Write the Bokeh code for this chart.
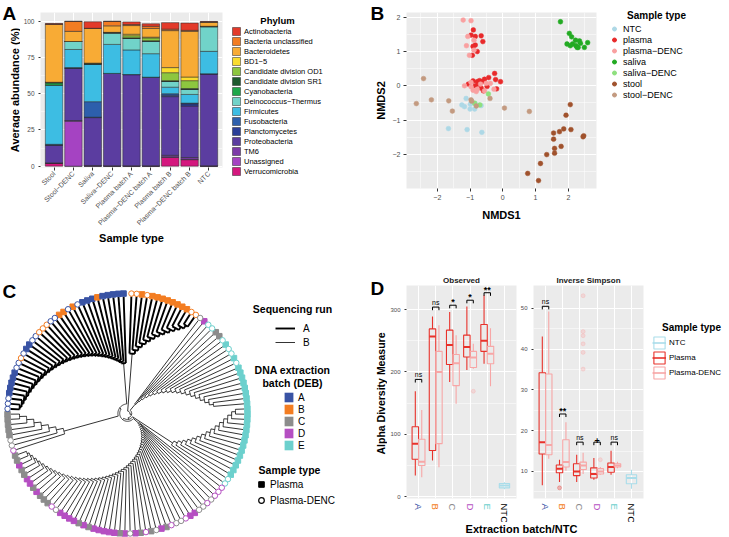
import numpy as np
from math import pi
from bokeh.plotting import figure
from bokeh.models import (ColumnDataSource, Legend, LegendItem, Label, LabelSet,
                          FixedTicker, FactorRange, Range1d)
from bokeh.layouts import row, column
from bokeh.core.properties import value
from bokeh.embed import file_html
from bokeh.resources import INLINE

FONT = "Liberation Sans"
TICK_TXT = "#4D4D4D"

# ================= Panel A data =================
samples = ["Stool", "Stool\u2212DENC", "Saliva", "Saliva\u2212DENC", "Plasma batch A",
           "Plasma\u2212DENC batch A", "Plasma batch B", "Plasma\u2212DENC batch B", "NTC"]
phyla = ["Actinobacteria", "Bacteria unclassified", "Bacteroidetes", "BD1\u22125",
         "Candidate division OD1", "Candidate division SR1", "Cyanobacteria",
         "Deinococcus\u2212Thermus", "Firmicutes", "Fusobacteria", "Planctomycetes",
         "Proteobacteria", "TM6", "Unassigned", "Verrucomicrobia"]
phylum_colors = ["#E33A2A", "#F27C22", "#F8AB35", "#F9DC2E", "#8DC63F", "#1D5A2E",
                 "#1FA84A", "#71D3C9", "#3DBDE3", "#2D5FAC", "#2B3F98", "#5B3DA0",
                 "#7C3AA8", "#A543C2", "#D4177E"]
actinobacteria = [0.5, 0.2, 4.5, 0.2, 1.8, 1.7, 4.5, 5.0, 0.3]
bacteria_unclassified = [0.0, 6.8, 0.0, 3.0, 0.7, 1.5, 1.0, 0.7, 0.3]
bacteroidetes = [40.0, 7.0, 24.0, 4.5, 6.0, 6.0, 25.5, 31.5, 2.7]
bd1_5 = [0.0, 0.0, 0.3, 0.0, 1.0, 0.5, 3.5, 2.5, 0.0]
cand_od1 = [0.0, 0.0, 0.0, 0.0, 1.5, 2.0, 5.5, 5.5, 0.0]
cand_sr1 = [0.5, 0.0, 0.3, 0.5, 0.3, 0.3, 0.5, 0.5, 0.3]
cyanobacteria = [1.5, 0.0, 0.0, 0.0, 0.0, 0.0, 0.0, 0.0, 0.0]
deinococcus = [0.0, 5.5, 0.0, 7.8, 8.0, 8.6, 4.0, 3.5, 17.0]
firmicutes = [40.8, 12.5, 26.0, 20.0, 17.0, 16.2, 4.5, 6.0, 15.5]
fusobacteria = [0.4, 0.5, 10.7, 0.0, 0.0, 0.0, 1.0, 0.5, 0.0]
planctomycetes = [0.4, 0.0, 0.3, 0.0, 0.0, 0.0, 1.0, 1.5, 0.0]
proteobacteria = [12.0, 36.0, 33.0, 63.7, 62.9, 61.1, 40.5, 35.5, 63.4]
tm6 = [0.3, 0.5, 0.5, 0.3, 0.3, 0.3, 1.0, 1.2, 0.3]
unassigned = [0.0, 31.0, 0.0, 0.0, 0.0, 0.0, 0.5, 0.3, 0.0]
verrucomicrobia = [2.0, 0.0, 0.0, 0.0, 0.0, 0.0, 6.0, 4.5, 0.0]
phylum_values = [actinobacteria, bacteria_unclassified, bacteroidetes, bd1_5, cand_od1,
                 cand_sr1, cyanobacteria, deinococcus, firmicutes, fusobacteria,
                 planctomycetes, proteobacteria, tm6, unassigned, verrucomicrobia]

# ================= Panel B data =================
nmds_groups = ["NTC", "plasma", "plasma\u2212DENC", "saliva", "saliva\u2212DENC", "stool", "stool\u2212DENC"]
nmds_colors = ["#ADD8E6", "#E8292A", "#F9A0A0", "#22AA22", "#8EE07E", "#A0522D", "#C39A80"]
ntc_x = [-1.12, -1.25, -1.17, -0.99, -1.00, -0.86, -0.84, -1.66, -1.09, -0.64, -0.66]
ntc_y = [-0.37, -0.56, -0.61, -0.54, -0.68, -0.68, -0.52, -1.25, -1.28, -1.36, -0.58]
plasma_x = [-0.90, -0.97, -0.84, -0.66, -0.61, -0.84, -0.91, -0.78, -0.93, -1.05, -0.91, -0.78, -0.71,
            -0.63, -0.56, -0.43, -0.25, -0.22, -0.07, -0.48, -0.66, -0.84, -0.59, -0.19, -0.74]
plasma_y = [1.63, 1.48, 1.44, 1.46, 1.29, 1.19, 1.15, 1.00, 0.89, 0.05, 0.14, 0.12, 0.15,
            0.12, 0.19, 0.24, 0.36, 0.18, 0.12, -0.02, -0.07, 0.00, -0.15, -0.09, 0.05]
pdenc_x = [-0.97, -1.21, -1.07, -0.88, -1.11, -1.02, -0.88, -1.17, -0.97, -0.91, -0.78, -0.56,
           -0.51, -0.38, -0.27, -0.97, -0.81, -0.68]
pdenc_y = [1.90, 1.92, 1.44, 1.33, 1.17, 0.89, 1.04, 0.00, -0.03, -0.13, -0.10, -0.15,
           0.07, 0.07, -0.10, 0.10, -0.17, 0.05]
saliva_x = [1.76, 2.03, 2.10, 2.22, 2.34, 2.59, 1.96, 2.13, 2.23, 2.37, 2.49, 2.27, 2.30, 2.06]
saliva_y = [1.87, 1.53, 1.43, 1.33, 1.31, 1.26, 1.22, 1.22, 1.17, 1.24, 1.12, 1.12, 1.12, 1.17]
sdenc_x = [-0.44, -0.86, -0.70]
sdenc_y = [-0.24, -0.51, -0.56]
stool_x = [2.06, 1.93, 2.08, 1.86, 1.73, 1.55, 1.55, 1.58, 1.78, 1.58, 2.47, 2.45, 1.34, 1.15, 0.76, 1.09]
stool_y = [-0.55, -0.86, -1.28, -1.26, -1.34, -1.38, -1.56, -1.83, -1.77, -1.97, -1.46, -1.49,
           -2.01, -2.27, -2.56, -2.77]
stdenc_x = [-2.42, -2.64, -2.18, -1.65, -1.54, -0.97, -0.81, -0.39, 0.05, 0.81, -0.95]
stdenc_y = [0.21, -0.52, -0.41, -0.44, -0.74, -0.41, -0.59, -0.37, -0.65, -0.75, -0.45]
nmds_x = [ntc_x, plasma_x, pdenc_x, saliva_x, sdenc_x, stool_x, stdenc_x]
nmds_y = [ntc_y, plasma_y, pdenc_y, saliva_y, sdenc_y, stool_y, stdenc_y]

# ================= Panel C data (tree leaves, clockwise from 12 o'clock) =================
deb_batches = ["A", "B", "C", "D", "E"]
deb_colors = ["#3953A4", "#F37D22", "#8C8C8C", "#B54FC2", "#6CD0CD"]
group_batch = [
    "BBBBBBBBBBBBBB",
    "CDEECCEEEEEE" + "EEEEEEEE",
    "EEEEEEEEEEEEEEEE",
    "DDDCDCCDDDCCDCDCCDCDCDCD" + "DDDDCDCDDDDCDCCCDCDDCCDCC",
    "DCCCCCCC",
    "AAAAAAAAAABAAAAABBBAABBABAAAABAAAAA",
]
group_kind = [  # s = Plasma, c = Plasma-DENC
    "ccsc" + "ssssssss" + "cc",
    "csccsscsccsc" + "ssssssss",
    "ssssssssssssss" + "cc",
    "ccccccc" + "ss" + "cccc" + "ss" + "c" + "s" + "c" + "ss" + "c" + "sss" + "sssssssssss" + "cc" + "ssssssssssss",
    "ccc" + "sssss",
    "ccc" + "sssss" + "cc" + "c" + "c" + "ss" + "cc" + "ccc" + "cc" + "ss" + "c" + "s" + "c" + "sss" + "s" + "sssss",
]
group_r_in = [0.50, 0.10, 0.45, 0.12, 0.55, 0.42]
group_r_out = [0.88, 0.72, 0.90, 0.90, 0.90, 0.90]
group_run = ["A", "B", "B", "B", "B", "A"]
group_peel = ["start", "start", "end", "start", "start", "end"]
root_r = [0.02, 0.035, 0.05, 0.065, 0.08]

# ================= Panel D data =================
batches = ["A", "B", "C", "D", "E", "NTC"]
batch_label_colors = ["#3953A4", "#F37D22", "#8C8C8C", "#B54FC2", "#6CD0CD", "#000000"]
# [lower whisker, Q1, median, Q3, upper whisker] for A..E
obs_plasma = [[34, 60, 85, 112, 169], [58, 74, 257, 269, 289], [184, 212, 243, 267, 296],
              [203, 224, 240, 259, 305], [213, 233, 250, 276, 323]]
obs_denc = [[31, 50, 56, 92, 139], [47, 85, 200, 233, 275], [149, 178, 214, 228, 259],
            [205, 207, 223, 233, 245], [177, 213, 229, 241, 270]]
obs_ntc = [12, 14, 17.7, 21, 23]
obs_denc_out_batch = ["D"]
obs_denc_out = [169]
inv_plasma = [[6.6, 14.3, 17.2, 34.2, 43.1], [7.4, 9.7, 10.7, 11.6, 12.9], [7.4, 9.0, 10.0, 11.9, 14.1],
              [8.0, 8.4, 9.4, 10.9, 13.3], [9.2, 9.8, 11.1, 12.1, 15.1]]
inv_denc = [[13.1, 14.1, 16.5, 33.9, 49.2], [10.2, 11.1, 12.3, 17.8, 22.1], [9.4, 10.5, 11.5, 12.3, 14.6],
            [9.2, 9.4, 10.0, 10.7, 11.1], [10.8, 11.1, 11.5, 11.9, 12.4]]
inv_ntc = [5.8, 7.0, 8.4, 9.2, 10.4]
inv_plasma_out_batch = ["B"]
inv_plasma_out = [6.0]
inv_denc_out_batch = ["C", "C", "C", "C", "C", "C", "D"]
inv_denc_out = [53.1, 44.3, 43.3, 41.3, 39.2, 35.1, 12.9]
obs_sig_y = [188, 304, 307, 315, 327]
obs_sig = ["ns", "ns", "*", "*", "**"]
inv_sig_y = [50.5, 24.1, 17.2, 17.2, 17.2]
inv_sig = ["ns", "**", "ns", "+", "ns"]
d_types = ["NTC", "Plasma", "Plasma-DENC"]
d_colors = ["#A9DDEA", "#E8322B", "#F7A6A6"]


# ================= helpers =================
def gg_theme(p, tick_size="7px"):
    p.background_fill_color = "#EBEBEB"
    p.border_fill_color = "white"
    p.outline_line_color = None
    for g in (p.xgrid, p.ygrid):
        g.grid_line_color = "white"
        g.grid_line_width = 1.0
        g.minor_grid_line_color = "white"
        g.minor_grid_line_width = 0.5
    for ax in (p.xaxis, p.yaxis):
        ax.axis_line_color = None
        ax.major_tick_line_color = "#333333"
        ax.major_tick_out = 3
        ax.major_tick_in = 0
        ax.minor_tick_line_color = None
        ax.major_label_text_color = TICK_TXT
        ax.major_label_text_font = FONT
        ax.major_label_text_font_size = tick_size
        ax.major_label_standoff = 2
        ax.axis_label_text_font = FONT
        ax.axis_label_text_font_style = "bold"
        ax.axis_label_text_font_size = "11px"
        ax.axis_label_text_color = "black"
        ax.axis_label_standoff = 4


def style_legend(lg, font_size, gw, gh, standoff):
    lg.background_fill_alpha = 0
    lg.border_line_color = None
    lg.padding = 0
    lg.margin = 0
    lg.spacing = 0
    lg.glyph_width = int(gw)
    lg.glyph_height = int(gh)
    lg.label_height = int(gh)
    lg.label_standoff = int(standoff)
    lg.label_text_font = FONT
    lg.label_text_font_size = font_size
    lg.label_text_baseline = "middle"
    lg.label_text_color = "black"


def text_at(p, x, y, text, size, bold=True, align="left", baseline="middle", angle=0.0, color="black"):
    p.add_layout(Label(x=x, y=y, x_units="screen", y_units="screen", text=text, angle=angle,
                       text_font=FONT, text_font_size=size,
                       text_font_style="bold" if bold else "normal",
                       text_align=align, text_baseline=baseline, text_color=color))


def blank(width, height, xr=None, yr=None):
    p = figure(width=width, height=height, x_range=xr if xr is not None else Range1d(0, 1),
               y_range=yr if yr is not None else Range1d(0, 1), min_border=0,
               toolbar_location=None, output_backend="svg")
    p.axis.visible = False
    p.grid.visible = False
    p.outline_line_color = None
    p.background_fill_color = None
    p.border_fill_color = None
    return p


# ================= Panel A =================
LA = blank(20, 270)
text_at(LA, 2, 268, "A", "19px", baseline="top")
text_at(LA, 14.5, 180.5, "Average abundance (%)", "11px", align="center", angle=pi / 2)

pA = figure(x_range=FactorRange(*samples, range_padding=0.2, range_padding_units="absolute"),
            y_range=Range1d(-0.9, 106), width=206, height=270,
            min_border_left=16, min_border_right=4, min_border_top=12, min_border_bottom=103,
            toolbar_location=None, output_backend="svg")
gg_theme(pA, tick_size="6.5px")
srcA = ColumnDataSource(dict(sample=samples, **{f"p{i}": v for i, v in enumerate(phylum_values)}))
keysA = [f"p{i}" for i in range(len(phyla))][::-1]
pA.vbar_stack(keysA, x="sample", width=0.9, fill_color=phylum_colors[::-1],
              line_color="#262626", line_width=0.5, source=srcA)
pA.yaxis.ticker = FixedTicker(ticks=[0, 25, 50, 75, 100], minor_ticks=[12.5, 37.5, 62.5, 87.5])
pA.yaxis.major_tick_out = 2
pA.xaxis.axis_label = "Sample type"
pA.xaxis.major_label_text_font_size = "7px"
pA.xaxis.major_label_orientation = pi / 4
pA.xaxis.axis_label_standoff = 0

LgA = blank(144, 270)
nph = len(phyla)
legA_src = ColumnDataSource(dict(l=[np.nan] * nph, r=[np.nan] * nph, b=[np.nan] * nph,
                                 t=[np.nan] * nph, c=phylum_colors))
rA = LgA.quad(left="l", right="r", bottom="b", top="t", fill_color="c", line_color="#262626",
              line_width=0.5, source=legA_src)
legA = Legend(items=[LegendItem(label=ph, renderers=[rA], index=i) for i, ph in enumerate(phyla)],
              location=(5, 94))
style_legend(legA, "7.5px", 10, 10, 3)
LgA.add_layout(legA)
text_at(LgA, 51, 250, "Phylum", "9.5px", align="center")

# ================= Panel B =================
LB = blank(18, 270)
text_at(LB, 0, 268, "B", "19px", baseline="top")
text_at(LB, 10, 170, "NMDS2", "11px", align="center", angle=pi / 2)

pB = figure(x_range=Range1d(-2.94, 2.86), y_range=Range1d(-3.0, 2.14), width=212, height=270,
            min_border_left=18, min_border_right=4, min_border_top=12, min_border_bottom=82,
            toolbar_location=None, output_backend="svg")
gg_theme(pB)
pB.xaxis.ticker = FixedTicker(ticks=[-2, -1, 0, 1, 2], minor_ticks=[-2.5, -1.5, -0.5, 0.5, 1.5, 2.5])
pB.yaxis.ticker = FixedTicker(ticks=[-2, -1, 0, 1, 2], minor_ticks=[-2.5, -1.5, -0.5, 0.5, 1.5])
pB.xaxis.axis_label = "NMDS1"
pB.xaxis.axis_label_standoff = 6
for gx, gy, col in zip(nmds_x, nmds_y, nmds_colors):
    pB.scatter(gx, gy, size=4.8, fill_color=col, line_color=col, line_width=0.5)

LgB = blank(129, 270)
legB_src = ColumnDataSource(dict(x=[np.nan] * 7, y=[np.nan] * 7, c=nmds_colors))
rB = LgB.scatter("x", "y", size=5, fill_color="c", line_color="c", source=legB_src)
legB = Legend(items=[LegendItem(label=g, renderers=[rB], index=i) for i, g in enumerate(nmds_groups)],
              location=(9, 170))
style_legend(legB, "9px", 10, 11, 4)
LgB.add_layout(legB)
text_at(LgB, 56, 255, "Sample type", "10px", align="center")

# ================= Panel C (circular dendrogram) =================
leaf_batch = "".join(group_batch)
leaf_kind = "".join(group_kind)
N = len(leaf_batch)
step = 2 * pi / (N + 0.5)
theta = pi / 2 - step * (np.arange(N) + 0.75)
LEAF_R = 1.0
TIP_R = 0.975
edges = {True: ([], []), False: ([], [])}


def add_node(r_parent, children, thick):
    xs, ys = edges[thick]
    ths = [c[1] for c in children]
    a0, a1 = min(ths), max(ths)
    t = np.linspace(a0, a1, max(2, int((a1 - a0) / 0.01) + 1))
    xs.append(list(r_parent * np.cos(t)))
    ys.append(list(r_parent * np.sin(t)))
    for rc, th in children:
        xs.append([r_parent * np.cos(th), rc * np.cos(th)])
        ys.append([r_parent * np.sin(th), rc * np.sin(th)])


def caterpillar(idx, r_in, r_out, peel, thick):
    seq = list(idx) if peel == "start" else list(idx)[::-1]
    n = len(seq)
    child = (TIP_R, theta[seq[-1]])
    for k in range(n - 2, -1, -1):
        r_k = r_in + (r_out - r_in) * k / max(n - 2, 1)
        leaf = (TIP_R, theta[seq[k]])
        add_node(r_k, [leaf, child], thick)
        child = (r_k, (leaf[1] + child[1]) / 2)
    return child


group_roots = []
start = 0
for gb, ri, ro, run, peel in zip(group_batch, group_r_in, group_r_out, group_run, group_peel):
    idx = range(start, start + len(gb))
    group_roots.append(caterpillar(idx, ri, ro, peel, run == "A"))
    start += len(gb)
child = group_roots[-1]
for k in range(len(group_roots) - 2, -1, -1):
    add_node(root_r[k], [group_roots[k], child], False)
    child = (root_r[k], (group_roots[k][1] + child[1]) / 2)

R_PX = 120.0
pC = blank(370, 267, Range1d(-127 / R_PX, 243 / R_PX), Range1d(-124 / R_PX, 143 / R_PX))
r_thick = pC.multi_line(xs=edges[True][0], ys=edges[True][1], line_color="black", line_width=1.9)
r_thin = pC.multi_line(xs=edges[False][0], ys=edges[False][1], line_color="black", line_width=0.8)

color_of = dict(zip(deb_batches, deb_colors))
lx = LEAF_R * np.cos(theta)
ly = LEAF_R * np.sin(theta)
sq = [i for i in range(N) if leaf_kind[i] == "s"]
ci = [i for i in range(N) if leaf_kind[i] == "c"]
src_sq = ColumnDataSource(dict(x=lx[sq], y=ly[sq], c=[color_of[leaf_batch[i]] for i in sq]))
src_ci = ColumnDataSource(dict(x=lx[ci], y=ly[ci], c=[color_of[leaf_batch[i]] for i in ci]))
pC.scatter("x", "y", marker="square", size=5.5, fill_color="c", line_color="c", source=src_sq)
pC.scatter("x", "y", marker="circle", size=5.5, fill_color="white", line_color="c", line_width=1.0,
           source=src_ci)

legC1 = Legend(items=[LegendItem(label="A", renderers=[r_thick]), LegendItem(label="B", renderers=[r_thin])],
               location=(275, 188))
style_legend(legC1, "10px", 20, 14, 8)
pC.add_layout(legC1)
deb_src = ColumnDataSource(dict(l=[np.nan] * 5, r=[np.nan] * 5, b=[np.nan] * 5, t=[np.nan] * 5, c=deb_colors))
r_deb = pC.quad(left="l", right="r", bottom="b", top="t", fill_color="c", line_color=None, source=deb_src)
legC2 = Legend(items=[LegendItem(label=b, renderers=[r_deb], index=i) for i, b in enumerate(deb_batches)],
               location=(283, 86))
style_legend(legC2, "10px", 11, 12, 4)
pC.add_layout(legC2)
r_pl = pC.scatter([np.nan], [np.nan], marker="square", size=6, fill_color="black", line_color="black")
r_dn = pC.scatter([np.nan], [np.nan], marker="circle", size=6, fill_color="white", line_color="black",
                  line_width=1.2)
legC3 = Legend(items=[LegendItem(label="Plasma", renderers=[r_pl]),
                      LegendItem(label="Plasma-DENC", renderers=[r_dn])], location=(254, 29))
style_legend(legC3, "10px", 14, 16, 2)
pC.add_layout(legC3)
text_at(pC, 2, 257, "C", "19px", baseline="top")
text_at(pC, 292, 229, "Sequencing run", "10.5px", align="center")
text_at(pC, 292, 168, "DNA extraction", "10.5px", align="center")
text_at(pC, 292, 155, "batch (DEB)", "10.5px", align="center")
text_at(pC, 289, 68, "Sample type", "10.5px", align="center")


# ================= Panel D =================
def draw_boxes(p, idx, stats, offset, width, color):
    pos = [i + 0.5 + offset for i in idx]
    lo, q1, md, q3, hi = [list(c) for c in zip(*stats)]
    src = ColumnDataSource(dict(x=pos, x0=[x - width / 2 for x in pos], x1=[x + width / 2 for x in pos],
                                lo=lo, q1=q1, md=md, q3=q3, hi=hi))
    p.segment(x0="x", y0="q3", x1="x", y1="hi", line_color=color, line_width=1.1, source=src)
    p.segment(x0="x", y0="lo", x1="x", y1="q1", line_color=color, line_width=1.1, source=src)
    p.vbar(x="x", bottom="q1", top="q3", width=width, fill_color=None, line_color=color,
           line_width=1.1, source=src)
    p.segment(x0="x0", y0="md", x1="x1", y1="md", line_color=color, line_width=2.0, source=src)


def draw_outliers(p, out_batch, out_vals, offset, color):
    xs = [batches.index(b) + 0.5 + offset for b in out_batch]
    p.scatter(xs, out_vals, size=4, fill_color=color, line_color=color, alpha=0.3)


def draw_sig(p, ys, labels, tip):
    xl = [i + 0.5 - 0.1875 for i in range(len(ys))]
    xr = [i + 0.5 + 0.1875 for i in range(len(ys))]
    p.multi_line(xs=[[a, a, b, b] for a, b in zip(xl, xr)],
                 ys=[[y - tip, y, y, y - tip] for y in ys], line_color="black", line_width=1.0)
    is_ns = [l == "ns" for l in labels]
    src = ColumnDataSource(dict(x=[i + 0.5 for i in range(len(ys))], y=ys, t=labels,
                                fs=["7px" if n else "9px" for n in is_ns],
                                st=["normal" if n else "bold" for n in is_ns],
                                off=[-1.0 if n else 2.0 for n in is_ns]))
    p.text(x="x", y="y", text="t", source=src, text_font=value(FONT), text_font_size="fs",
           text_font_style="st", text_align="center", text_baseline="bottom", y_offset="off")


def d_fig(title, yr, left, right, ticks, minor):
    p = figure(x_range=FactorRange(*batches, range_padding=0.2, range_padding_units="absolute"),
               y_range=yr, width=left + 115 + right, height=232, min_border_left=left,
               min_border_right=right, min_border_top=15, min_border_bottom=4,
               title=title, toolbar_location=None, output_backend="svg")
    gg_theme(p, tick_size="6px")
    p.title.align = "center"
    p.title.text_font = FONT
    p.title.text_font_size = "8px"
    p.title.text_font_style = "bold"
    p.title.text_color = "#1A1A1A"
    p.title.standoff = 1
    p.yaxis.ticker = FixedTicker(ticks=ticks, minor_ticks=minor)
    p.yaxis.major_tick_out = 2
    p.xaxis.visible = False
    return p


def d_strip(pd, left, right):
    s = blank(left + 115 + right, 20, pd.x_range, Range1d(0, 1))
    s.min_border_left = left
    s.min_border_right = right
    lab_src = ColumnDataSource(dict(x=[i + 0.5 for i in range(len(batches))], t=batches,
                                    c=batch_label_colors))
    s.add_layout(LabelSet(x="x", y=0.95, text="t", text_color="c", source=lab_src,
                          angle=-pi / 2, text_align="left", text_baseline="middle",
                          text_font=value(FONT), text_font_size="9.5px"))
    return s


LD = blank(17, 252)
text_at(LD, 0, 245, "D", "19px", baseline="top")
text_at(LD, 10, 129, "Alpha Diversity Measure", "10.5px", align="center", angle=pi / 2)

pD1 = d_fig("Observed", Range1d(-3, 338.6), 14, 1, [0, 100, 200, 300], [50, 150, 250])
draw_boxes(pD1, range(5), obs_plasma, -0.1875, 0.375, d_colors[1])
draw_boxes(pD1, range(5), obs_denc, 0.1875, 0.375, d_colors[2])
draw_boxes(pD1, [5], [obs_ntc], 0.0, 0.6, d_colors[0])
draw_outliers(pD1, obs_denc_out_batch, obs_denc_out, 0.1875, d_colors[2])
draw_sig(pD1, obs_sig_y, obs_sig, 5)

pD2 = d_fig("Inverse Simpson", Range1d(3.38, 55.6), 11, 4, [10, 20, 30, 40, 50], [5, 15, 25, 35, 45])
draw_boxes(pD2, range(5), inv_plasma, -0.1875, 0.375, d_colors[1])
draw_boxes(pD2, range(5), inv_denc, 0.1875, 0.375, d_colors[2])
draw_boxes(pD2, [5], [inv_ntc], 0.0, 0.6, d_colors[0])
draw_outliers(pD2, inv_plasma_out_batch, inv_plasma_out, -0.1875, d_colors[1])
draw_outliers(pD2, inv_denc_out_batch, inv_denc_out, 0.1875, d_colors[2])
draw_sig(pD2, inv_sig_y, inv_sig, 0.75)
sD1 = d_strip(pD1, 14, 1)
sD2 = d_strip(pD2, 11, 4)

LgD = blank(82, 252)
legD_src = ColumnDataSource(dict(x=[np.nan] * 3, y=[np.nan] * 3, c=d_colors))
rDb = LgD.vbar(x="x", top="y", bottom="y", width=1, fill_color=None, line_color="c", line_width=1.1,
               source=legD_src)
rDm = LgD.segment(x0="x", y0="y", x1="x", y1="y", line_color="c", line_width=1.6, source=legD_src)
legD = Legend(items=[LegendItem(label=t, renderers=[rDb, rDm], index=i) for i, t in enumerate(d_types)],
              location=(5, 142))
style_legend(legD, "8px", 14, 15, 3)
LgD.add_layout(legD)
text_at(LgD, 44, 195, "Sample type", "10px", align="center")

XL = blank(359, 15)
text_at(XL, 151, 9, "Extraction batch/NTC", "11px", align="center")

# each figure wrapped in its own column so that row-level frame alignment does not apply
top_row = row(column(LA), column(pA), column(LgA), column(LB), column(pB), column(LgB))
d_block = column(row(column(LD), column(pD1, sD1), column(pD2, sD2), column(LgD)), XL)
layout = column(top_row, row(column(pC), d_block))
open("out.html", "w").write(file_html(layout, INLINE))
